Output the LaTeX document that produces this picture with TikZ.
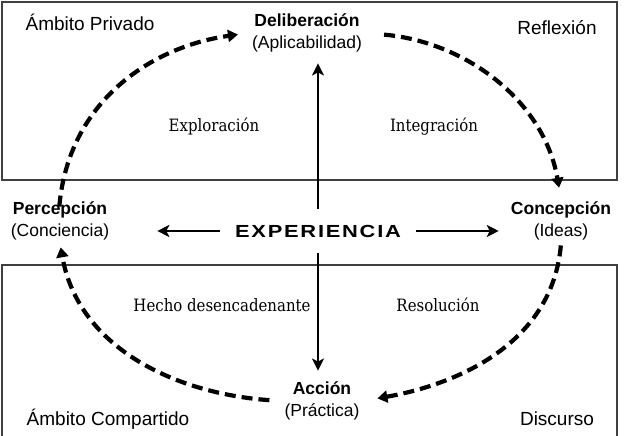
\documentclass[tikz,border=0pt]{standalone}
\usepackage{fontspec}
\setmainfont{Liberation Sans}
\newfontfamily\phasefont{DejaVu Serif}[FakeStretch=0.88]
\newfontfamily\expfont{Liberation Sans}[FakeStretch=1.25,LetterSpace=10]
\usepackage{tikz}
\usetikzlibrary{arrows.meta}

\begin{document}
\begin{tikzpicture}[x=1pt,y=1pt,
		box/.style={draw=black!75, line width=1.2pt},
		corner/.style={anchor=base, font=\fontsize{19}{21}\selectfont},
		stage/.style={align=center, inner sep=3pt, font=\fontsize{17.5}{22}\selectfont},
		phase/.style={anchor=base, font=\phasefont\fontsize{17}{19}\selectfont},
		cycle/.style={-{Triangle[length=10pt,width=12pt]}, line width=4.2pt, dash pattern=on 11pt off 6pt},
		axis/.style={-{Stealth[length=12pt,width=12pt,inset=3pt]}, line width=2.8pt}]
		\useasboundingbox (0,0) rectangle (624,436);
		% the two areas
		\draw[box] (2,434) rectangle (617,256);
		\draw[box] (2,171) rectangle (617,-10);
		\node[corner] (privado) at (90,405) {Ámbito Privado};
		\node[corner] (reflexion) at (557,401) {Reflexión};
		\node[corner] (compartido) at (108,10) {Ámbito Compartido};
		\node[corner] (discurso) at (557,10) {Discurso};
		% stages of the cycle
		\node[stage] (delib) at (307,403) {\textbf{Deliberación}\\(Aplicabilidad)};
		\node[stage] (perc) at (60,215) {\textbf{Percepción}\\(Conciencia)};
		\node[stage] (conc) at (561,215) {\textbf{Concepción}\\(Ideas)};
		\node[stage] (accion) at (322,35) {\textbf{Acción}\\(Práctica)};
		\node[font=\expfont\bfseries\fontsize{17.5}{18}\selectfont, minimum height=44pt, inner xsep=15pt] (exp) at (318,205) {EXPERIENCIA};
		% phases
		\node[phase] (exploracion) at (214,304) {Exploración};
		\node[phase] (integracion) at (434,304) {Integración};
		\node[phase] (hecho) at (222,124) {Hecho desencadenante};
		\node[phase] (resolucion) at (438,124) {Resolución};
		% arrows from the centre
		\draw[axis, shorten >=8pt] (exp.north) -- (exp.north |- delib.south);
		\draw[axis, shorten >=8pt] (exp.south) -- (exp.south |- accion.north);
		\draw[axis, shorten >=45pt] (exp.west) -- (exp.west -| perc.east);
		\draw[axis, shorten >=9pt] (exp.east) -- (exp.east -| conc.west);
		% the cycle
		\draw[cycle, shorten <=-8pt, shorten >=11pt] (perc.north) to[out=85,in=188] (delib.west);
		\draw[cycle, shorten <=19pt, shorten >=11pt] (delib.east) to[out=-5,in=100] (conc.north);
		\draw[cycle, shorten <=2pt, shorten >=15pt] (conc.south) to[out=265,in=10] (accion.east);
		\draw[cycle, shorten <=12pt, shorten >=4pt] (accion.west) to[out=176,in=-80] (perc.south);
\end{tikzpicture}
\end{document}
